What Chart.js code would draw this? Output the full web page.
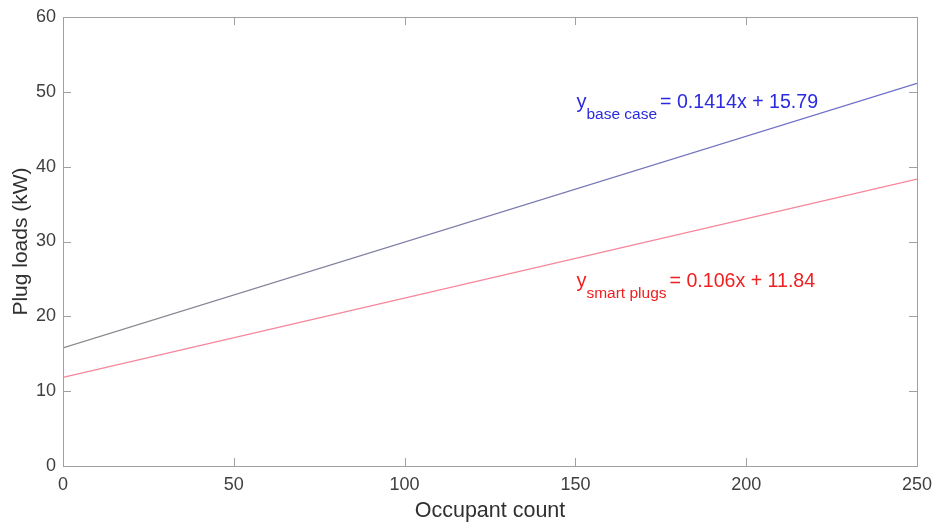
<!DOCTYPE html>
<html>
<head>
<meta charset="utf-8">
<script src="https://cdn.jsdelivr.net/npm/chart.js@4.4.0/dist/chart.umd.min.js"></script>
<style>
  html, body { margin: 0; padding: 0; background: #fff; }
  #wrap { width: 935px; height: 526px; }
</style>
</head>
<body>
<div id="wrap"><canvas id="plugChart"></canvas></div>
<script>
// values
const occupants = [0, 250];
const baseCase = [15.79, 51.14];
const smartPlugs = [11.84, 38.34];
const xTicks = [0, 50, 100, 150, 200, 250];
const yTicks = [0, 10, 20, 30, 40, 50, 60];

const FONT = "'Liberation Sans', Arial, Helvetica, sans-serif";

function toPoints(xs, ys) {
  return xs.map((x, i) => ({ x: x, y: ys[i] }));
}

// box round the plot with small inward ticks
const boxPlugin = {
  id: "box",
  afterDraw(chart) {
    const ctx = chart.ctx;
    const a = chart.chartArea;
    const xs = chart.scales.x;
    const ys = chart.scales.y;
    ctx.save();
    ctx.strokeStyle = "#a0a0a0";
    ctx.lineWidth = 1;
    ctx.strokeRect(a.left + 0.5, a.top + 0.5, a.right - a.left, a.bottom - a.top);
    ctx.beginPath();
    xTicks.forEach((v) => {
      const px = Math.round(xs.getPixelForValue(v)) + 0.5;
      ctx.moveTo(px, a.bottom);
      ctx.lineTo(px, a.bottom - 8);
      ctx.moveTo(px, a.top);
      ctx.lineTo(px, a.top + 8);
    });
    yTicks.forEach((v) => {
      const py = Math.round(ys.getPixelForValue(v)) + 0.5;
      ctx.moveTo(a.left, py);
      ctx.lineTo(a.left + 8, py);
      ctx.moveTo(a.right, py);
      ctx.lineTo(a.right - 8, py);
    });
    ctx.stroke();
    ctx.restore();
  },
};

// equation labels with subscripts
const labelPlugin = {
  id: "eqLabels",
  afterDatasetsDraw(chart) {
    const ctx = chart.ctx;
    const xs = chart.scales.x;
    const ys = chart.scales.y;
    const items = [
      { x: 150.3, y: 48.6, sub: "base case", rest: "= 0.1414x + 15.79", color: "#2a2ae0" },
      { x: 150.3, y: 24.6, sub: "smart plugs", rest: "= 0.106x + 11.84", color: "#f02020" },
    ];
    ctx.save();
    ctx.textBaseline = "middle";
    ctx.textAlign = "left";
    items.forEach((it) => {
      let px = xs.getPixelForValue(it.x);
      const py = ys.getPixelForValue(it.y);
      ctx.fillStyle = it.color;
      ctx.font = "20px " + FONT;
      ctx.fillText("y", px, py);
      px += ctx.measureText("y").width;
      ctx.font = "15.5px " + FONT;
      ctx.fillText(it.sub, px, py + 12);
      px += ctx.measureText(it.sub).width + 3;
      ctx.font = "19.6px " + FONT;
      ctx.fillText(it.rest, px, py);
    });
    ctx.restore();
  },
};

const ctx = document.getElementById("plugChart").getContext("2d");

const baseGrad = ctx.createLinearGradient(63, 0, 917, 0);
baseGrad.addColorStop(0, "#8a8a8a");
baseGrad.addColorStop(1, "#6b6bd0");

const chart = new Chart(ctx, {
  type: "line",
  data: {
    datasets: [
      {
        label: "base case",
        data: toPoints(occupants, baseCase),
        borderColor: baseGrad,
        borderWidth: 1.2,
        pointRadius: 0,
        fill: false,
      },
      {
        label: "smart plugs",
        data: toPoints(occupants, smartPlugs),
        borderColor: "#f7849a",
        borderWidth: 1.2,
        pointRadius: 0,
        fill: false,
      },
    ],
  },
  options: {
    responsive: true,
    maintainAspectRatio: false,
    animation: false,
    layout: { padding: { top: 17, right: 18, left: 0, bottom: 0 } },
    plugins: {
      legend: { display: false },
      tooltip: { enabled: false },
    },
    scales: {
      x: {
        type: "linear",
        min: 0,
        max: 250,
        afterBuildTicks: (s) => { s.ticks = xTicks.map((v) => ({ value: v })); },
        afterFit: (s) => { s.height = 60; s.paddingLeft = 0; s.paddingRight = 0; },
        grid: { display: false, tickLength: 0 },
        border: { display: false },
        ticks: { color: "#404040", font: { family: FONT, size: 18 }, padding: 8, maxRotation: 0 },
        title: {
          display: true,
          text: "Occupant count",
          color: "#303030",
          font: { family: FONT, size: 21.5 },
          padding: { top: 0, bottom: 2 },
        },
      },
      y: {
        min: 0,
        max: 60,
        afterBuildTicks: (s) => { s.ticks = yTicks.map((v) => ({ value: v })); },
        afterFit: (s) => { s.width = 63; s.paddingTop = 0; s.paddingBottom = 0; },
        grid: { display: false, tickLength: 0 },
        border: { display: false },
        ticks: { color: "#404040", font: { family: FONT, size: 18 }, padding: 7 },
        title: {
          display: true,
          text: "Plug loads (kW)",
          color: "#303030",
          font: { family: FONT, size: 21 },
          padding: { top: 9, bottom: 0 },
        },
      },
    },
  },
  plugins: [boxPlugin, labelPlugin],
});
</script>
</body>
</html>
